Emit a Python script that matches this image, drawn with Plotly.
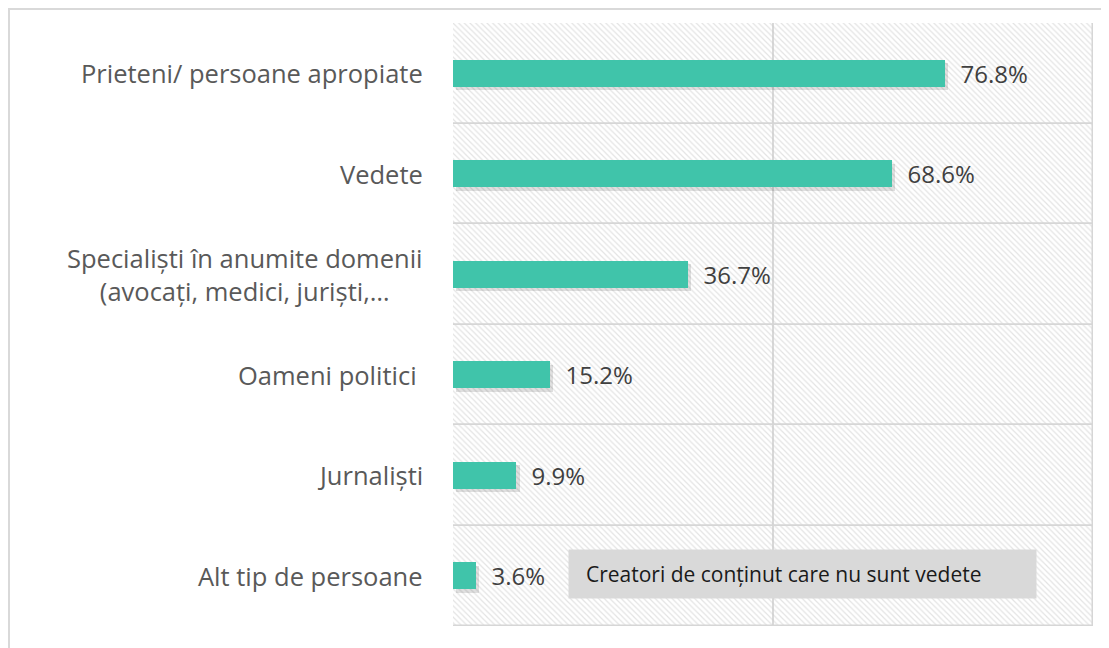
import plotly.graph_objects as go

categories = [
    "Prieteni/ persoane apropiate",
    "Vedete",
    "Specialiști în anumite domenii<br>(avocați, medici, juriști,…",
    "Oameni politici\u00a0",
    "Jurnaliști",
    "Alt tip de persoane",
]
values = [76.8, 68.6, 36.7, 15.2, 9.9, 3.6]
value_labels = [f"\u00a0\u00a0{v:.1f}%" for v in values]
box_text = "Creatori de conținut care nu sunt vedete"
x_max = 100

FONT = "Open Sans"
BAR_W = 0.273
ML, MR, MT, MB = 445, 24, 15, 30
PW, PH = 1109 - ML - MR, 648 - MT - MB

fig = go.Figure()

# hatched background cells (one per category)
fig.add_trace(go.Bar(
    y=categories, x=[x_max] * len(categories), orientation="h", width=1,
    marker=dict(color="rgba(0,0,0,0)", line=dict(color="#d6d6d6", width=1.5),
                pattern=dict(shape="\\", size=4, solidity=0.3,
                             fgcolor="#c8c8c8", bgcolor="rgba(0,0,0,0)")),
    hoverinfo="skip", showlegend=False,
))

# soft shadow
fig.add_trace(go.Bar(
    y=categories, x=values, base=0.5, orientation="h", width=BAR_W,
    offset=-BAR_W / 2 + 0.035,
    marker=dict(color="rgba(0,0,0,0.12)", line=dict(width=0)),
    hoverinfo="skip", showlegend=False,
))

# data bars
fig.add_trace(go.Bar(
    y=categories, x=values, orientation="h", width=BAR_W,
    marker=dict(color="#40C4AA", line=dict(width=0)),
    text=value_labels, textposition="outside", cliponaxis=False,
    constraintext="none",
    textfont=dict(family=FONT, size=24, color="#404040"),
    showlegend=False,
))

annotations = []
for c in categories:
    annotations.append(dict(
        x=0, xref="paper", y=c, yref="y", xanchor="right", yanchor="middle",
        xshift=-28, text=c, showarrow=False, align="center",
        font=dict(family=FONT, size=25.5, color="#595959"),
    ))
annotations.append(dict(
    x=(568 - 8 + 469 / 2 - ML) / PW, y=(MT + PH - (574 - 8)) / PH,
    xref="paper", yref="paper", xanchor="center", yanchor="middle",
    text="\u00a0\u00a0" + box_text, showarrow=False, bgcolor="#d9d9d9",
    width=455, height=36, borderpad=6, align="left",
    font=dict(family=FONT, size=21, color="#1a1a1a"),
))

fig.update_layout(
    width=1109, height=648,
    margin=dict(l=ML, r=MR, t=MT, b=MB),
    paper_bgcolor="white", plot_bgcolor="white",
    barmode="overlay", bargap=0,
    annotations=annotations,
    shapes=[dict(type="rect", xref="paper", yref="paper",
                 x0=(-ML + 1) / PW, x1=1.2, y0=-0.3, y1=1 + (MT - 1) / PH,
                 line=dict(color="#d9d9d9", width=2), layer="below")],
)
fig.update_xaxes(range=[0, x_max], tickvals=[0, 50, 100], showticklabels=False,
                 showgrid=True, gridcolor="#d9d9d9", gridwidth=1.5,
                 zeroline=False, showline=False, fixedrange=True)
fig.update_yaxes(autorange="reversed", showticklabels=False, showgrid=False,
                 showline=False, fixedrange=True)

fig.write_html("out.html")
